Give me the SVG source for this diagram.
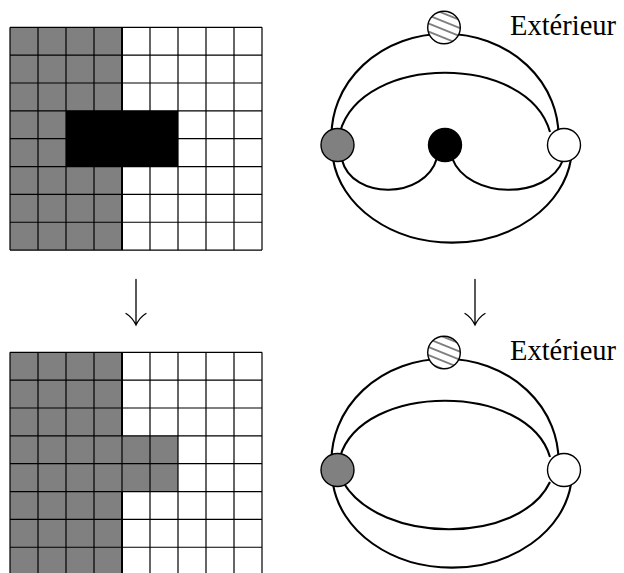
<svg xmlns="http://www.w3.org/2000/svg" width="624" height="573" viewBox="0 0 624 573">
<style>
.g{fill:#808080}
.k{fill:#000}
.gl{stroke:#000;stroke-width:1.2;fill:none}
.gb{stroke:#000;stroke-width:2;fill:none}
.e{stroke:#000;stroke-width:2.1;fill:none}
.n{stroke:#000;stroke-width:1.4}
.ar{stroke:#000;stroke-width:1.3;fill:none;stroke-linecap:round}
.t{font-family:"Liberation Serif","Times New Roman",serif;font-size:28.5px;fill:#000}
</style>
<defs>
<pattern id="hatch" patternUnits="userSpaceOnUse" width="100" height="7.5" patternTransform="rotate(22)">
<rect width="100" height="7.5" fill="#fff"/>
<line x1="0" y1="3.75" x2="100" y2="3.75" stroke="#000" stroke-width="1"/>
</pattern>
<g id="gridlines">
<path class="gl" d="M10,0V222.8M38,0V222.8M66,0V222.8M94,0V222.8M122,0V222.8M150,0V222.8M178,0V222.8M206,0V222.8M234,0V222.8M262,0V222.8"/>
<path class="gl" d="M10,0H262M10,27.85H262M10,55.7H262M10,83.55H262M10,111.4H262M10,139.25H262M10,167.1H262M10,194.95H262M10,222.8H262"/>
</g>
</defs>

<g id="grid-top" transform="translate(0,27.3)">
<rect class="g" x="10" y="0" width="112" height="222.8"/>
<rect class="k" x="66" y="83.55" width="112" height="55.7"/>
<use href="#gridlines"/>
<path class="gb" d="M122,0V83.55M122,139.25V222.8"/>
</g>

<g id="grid-bottom" transform="translate(0,352.3)">
<rect class="g" x="10" y="0" width="112" height="222.8"/>
<rect class="g" x="122" y="83.55" width="56" height="55.7"/>
<use href="#gridlines"/>
<path class="gb" d="M122,0V83.55M122,139.25V222.8"/>
</g>

<g id="arrows">
<path class="ar" d="M136,279.5V324.5M126,313.5Q132,317 136,325Q140,317 146,313.5"/>
<path class="ar" d="M475,279.5V324.5M465,313.5Q471,317 475,325Q479,317 485,313.5"/>
</g>

<g id="connectors-top">
<path class="e" d="M331.6,140 A113.5,102 0 1 1 558.4,140"/>
<path class="e" d="M333,159 A120,96 0 0 0 571,159"/>
<path class="e" d="M340,132 C362,53 528,53 550,132"/>
<path class="e" d="M342,160 C352,200 425,200 437,158"/>
<path class="e" d="M452,158 C468,200 548,200 563,160"/>
</g>

<g id="node-top-ext">
<circle class="n" cx="444" cy="27.5" r="16.3" fill="url(#hatch)"/>
</g>
<g id="node-top-gray"><circle class="n" cx="337.5" cy="145" r="16.5" fill="#808080"/></g>
<g id="node-top-black"><circle class="n" cx="445" cy="145" r="16.5" fill="#000"/></g>
<g id="node-top-white"><circle class="n" cx="564" cy="145" r="16.5" fill="#fff"/></g>
<text class="t" x="510" y="35">Extérieur</text>

<g id="connectors-bottom">
<path class="e" d="M331.6,465 A113.5,102 0 1 1 558.4,465"/>
<path class="e" d="M333,484 A120,96 0 0 0 571,484"/>
<path class="e" d="M340,457 C362,382 528,382 550,457"/>
<path class="e" d="M343,482 C380,545 520,545 550,482"/>
</g>

<g id="node-bottom-ext">
<circle class="n" cx="444" cy="352.5" r="16.3" fill="url(#hatch)"/>
</g>
<g id="node-bottom-gray"><circle class="n" cx="337.5" cy="470" r="16.5" fill="#808080"/></g>
<g id="node-bottom-white"><circle class="n" cx="564" cy="470" r="16.5" fill="#fff"/></g>
<text class="t" x="510" y="360">Extérieur</text>
</svg>
